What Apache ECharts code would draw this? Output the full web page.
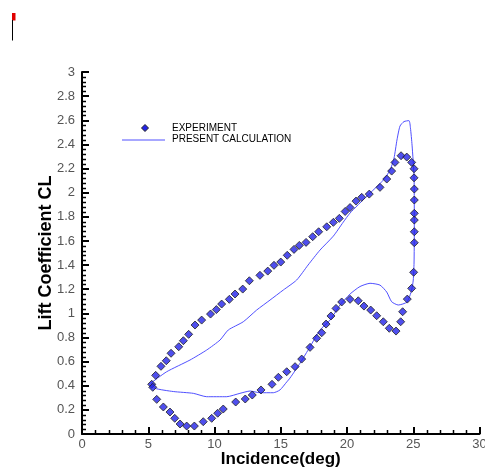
<!DOCTYPE html>
<html>
<head>
<meta charset="utf-8">
<script src="https://cdn.jsdelivr.net/npm/echarts@6/dist/echarts.min.js"></script>
<style>html,body{margin:0;padding:0;background:#fff}#c{width:485px;height:471px}</style>
</head>
<body>
<div id="c"></div>
<script>
var expX = [5.26,5.34,5.56,5.96,6.36,6.72,7.30,7.65,8.05,8.53,9.03,9.70,10.14,10.54,11.12,11.55,12.13,12.63,13.43,14.02,14.49,15.00,15.49,16.00,16.40,16.91,17.41,17.86,18.47,18.97,19.42,19.86,20.23,20.68,21.11,21.68,22.49,23.00,23.37,23.62,24.08,24.51,24.88,25.06,25.06,25.08,25.08,25.08,25.08,25.08,25.08,25.03,24.88,24.55,24.20,24.05,23.70,23.19,22.74,22.24,21.79,21.28,20.85,20.23,19.60,19.17,18.79,18.42,18.09,17.71,17.21,16.58,16.08,15.45,14.82,14.34,13.51,12.85,12.32,11.60,10.66,10.24,9.79,9.15,8.48,7.90,7.40,7.00,6.64,6.14,5.64];
var expY = [0.412,0.387,0.486,0.561,0.607,0.669,0.723,0.773,0.826,0.903,0.944,0.994,1.031,1.077,1.116,1.160,1.201,1.270,1.315,1.350,1.398,1.425,1.481,1.530,1.563,1.588,1.635,1.676,1.717,1.754,1.787,1.844,1.877,1.930,1.961,1.988,2.044,2.113,2.179,2.251,2.306,2.295,2.251,2.198,2.123,2.030,1.939,1.829,1.773,1.676,1.585,1.340,1.207,1.118,1.013,0.930,0.853,0.876,0.930,0.980,1.027,1.060,1.104,1.116,1.094,1.041,0.978,0.911,0.839,0.793,0.718,0.621,0.558,0.516,0.470,0.412,0.365,0.323,0.290,0.265,0.207,0.172,0.130,0.102,0.066,0.066,0.083,0.130,0.182,0.224,0.287];
var calcX = [5.21,6.39,8.15,9.41,10.42,11.04,12.17,13.18,14.19,15.19,16.20,17.06,17.96,18.97,19.72,20.23,21.51,22.74,23.25,23.55,23.77,24.00,24.30,24.68,24.79,24.91,25.06,25.08,25.06,25.00,24.88,24.53,23.87,23.37,23.00,22.49,21.74,20.98,20.23,19.47,18.72,17.96,17.21,16.45,15.70,15.45,14.94,14.44,13.43,12.68,11.92,10.92,9.41,8.40,6.89,5.51,5.21];
var calcY = [0.423,0.516,0.613,0.696,0.779,0.862,0.930,1.027,1.110,1.193,1.276,1.400,1.524,1.640,1.756,1.831,1.972,2.104,2.187,2.287,2.436,2.552,2.589,2.597,2.535,2.394,2.132,1.690,1.417,1.276,1.193,1.094,1.069,1.096,1.176,1.234,1.249,1.222,1.160,1.069,0.944,0.862,0.723,0.586,0.464,0.431,0.365,0.342,0.342,0.356,0.337,0.309,0.309,0.337,0.352,0.379,0.423];
var seriesNames = ['EXPERIMENT', 'PRESENT CALCULATION'];
var xTitle = 'Incidence(deg)';
var yTitle = 'Lift Coefficient CL';

function pairs(xs, ys) { return xs.map(function (x, i) { return [x, ys[i]]; }); }

var FONT = 'Liberation Sans, Arial, sans-serif';
var chart = echarts.init(document.getElementById('c'), null, {renderer: 'canvas'});
var labelStyle = {color: '#555', fontSize: 13, fontFamily: FONT};
var xTitleStyle = {color: '#000', fontSize: 17, fontWeight: 'bold', fontFamily: FONT};
var yTitleStyle = {color: '#000', fontSize: 18, fontWeight: 'bold', fontFamily: FONT};
var blank = {show: false};
var X_MIN = 0, X_MAX = 30, X_STEP = 5, X_MINOR = 5;
var Y_MIN = 0, Y_MAX = 3, Y_STEP = 0.2, Y_MINOR = 5;

var baseGraphic = [
  {type: 'rect', shape: {x: 12, y: 13, width: 3.5, height: 7.5}, style: {fill: '#e00000'}},
  {type: 'line', shape: {x1: 12.5, y1: 20, x2: 12.5, y2: 40.5}, style: {stroke: '#000', lineWidth: 1}},
  {type: 'polygon', shape: {points: [[145, 124.5], [148.5, 128], [145, 131.5], [141.5, 128]]}, style: {fill: '#2323e8', stroke: '#222', lineWidth: 1}},
  {type: 'line', shape: {x1: 122, y1: 140, x2: 165, y2: 140}, style: {stroke: '#5050ff', lineWidth: 1}},
  {type: 'text', x: 172, y: 128, style: {text: seriesNames[0], fill: '#000', font: '10px ' + FONT, textVerticalAlign: 'middle'}},
  {type: 'text', x: 172, y: 139, style: {text: seriesNames[1], fill: '#000', font: '10px ' + FONT, textVerticalAlign: 'middle'}}
];

chart.setOption({
  animation: false,
  backgroundColor: '#fff',
  grid: {left: 82, right: 5.5, top: 72, bottom: 37, containLabel: false, outerBoundsMode: 'none'},
  xAxis: {
    type: 'value', min: X_MIN, max: X_MAX, interval: X_STEP,
    name: xTitle, nameLocation: 'middle', nameGap: 17, nameMoveOverlap: false, nameTextStyle: xTitleStyle,
    axisLine: {show: true, onZero: false, lineStyle: {color: '#000', width: 2}},
    axisTick: {show: true, inside: true, length: 7, lineStyle: {color: '#000', width: 2}},
    axisLabel: Object.assign({margin: 4}, labelStyle),
    splitLine: blank
  },
  yAxis: {
    type: 'value', min: Y_MIN, max: Y_MAX, interval: Y_STEP,
    name: yTitle, nameLocation: 'middle', nameGap: 27, nameMoveOverlap: false, nameTextStyle: yTitleStyle,
    axisLine: {show: true, onZero: false, lineStyle: {color: '#000', width: 2}},
    axisTick: {show: true, inside: true, length: 7, lineStyle: {color: '#000', width: 2}},
    axisLabel: Object.assign({margin: 7}, labelStyle),
    splitLine: blank
  },
  series: [
    {
      name: seriesNames[1], type: 'line', data: pairs(calcX, calcY), symbol: 'none', smooth: 0.2,
      lineStyle: {color: '#5050ff', width: 1}, itemStyle: {color: '#5050ff'}, z: 2
    },
    {
      name: seriesNames[0], type: 'scatter', data: pairs(expX, expY), symbol: 'diamond', symbolSize: 8,
      itemStyle: {color: '#2323e8', borderColor: '#222', borderWidth: 1}, z: 3
    }
  ],
  graphic: baseGraphic
});

// minor ticks placed through the axes' own scales
var minor = [];
var xSub = X_STEP / X_MINOR, ySub = Y_STEP / Y_MINOR;
var finder = {gridIndex: 0};
for (var i = 0; i <= Math.round((X_MAX - X_MIN) / xSub); i++) {
  if (i % X_MINOR === 0) continue;
  var px = chart.convertToPixel(finder, [X_MIN + i * xSub, Y_MIN]);
  if (!px) continue;
  var xx = Math.round(px[0]) + 0.5;
  minor.push({type: 'line', z: 50, shape: {x1: xx, y1: px[1], x2: xx, y2: px[1] - 4}, style: {stroke: '#000', lineWidth: 1.5}});
}
for (var j = 0; j <= Math.round((Y_MAX - Y_MIN) / ySub); j++) {
  if (j % Y_MINOR === 0) continue;
  var py = chart.convertToPixel(finder, [X_MIN, Y_MIN + j * ySub]);
  if (!py) continue;
  var yy = Math.round(py[1]) + 0.5;
  minor.push({type: 'line', z: 50, shape: {x1: py[0], y1: yy, x2: py[0] + 4, y2: yy}, style: {stroke: '#000', lineWidth: 1.5}});
}
chart.setOption({graphic: baseGraphic.concat(minor)});
</script>
</body>
</html>
